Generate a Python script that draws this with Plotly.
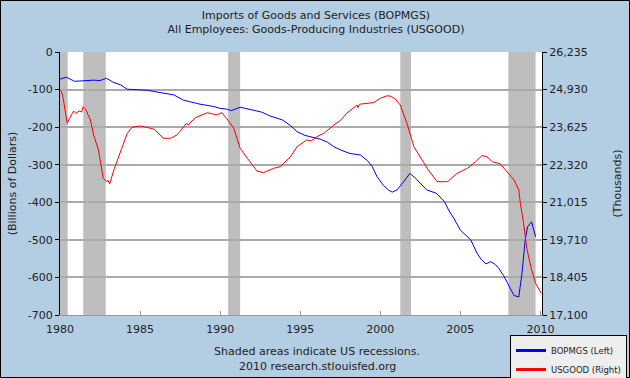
import plotly.graph_objects as go

# ---- data ----
bop_years = [1980.0, 1980.4, 1980.9, 1981.5, 1982.1, 1982.5, 1982.9, 1983.3, 1983.8, 1984.2,
             1984.7, 1985.0, 1985.5, 1986.25, 1987.1, 1987.7, 1988.2, 1988.75, 1989.6, 1990.0,
             1990.4, 1990.7, 1991.25, 1992.1, 1992.6, 1993.1, 1993.9, 1994.4, 1994.8, 1995.3,
             1995.7, 1996.25, 1996.7, 1997.1, 1997.6, 1998.1, 1998.75, 1999.2, 1999.5, 1999.8,
             2000.2, 2000.5, 2000.75, 2001.05, 2001.5, 2001.85, 2002.2, 2002.6, 2002.9, 2003.5,
             2004.0, 2004.3, 2004.6, 2005.0, 2005.3, 2005.65, 2006.05, 2006.3, 2006.6, 2006.9,
             2007.2, 2007.4, 2007.7, 2007.95, 2008.35, 2008.65, 2008.85, 2009.05, 2009.2, 2009.45,
             2009.7]
bop_values = [-72, -67, -78, -76, -75, -76, -70, -80, -88, -99,
              -100, -100, -102, -108, -114, -128, -134, -139, -145, -150,
              -152, -156, -147, -154, -160, -170, -181, -196, -212, -222,
              -226, -232, -240, -252, -262, -270, -274, -289, -305, -332,
              -355, -367, -373, -367, -343, -323, -336, -355, -367, -376,
              -398, -423, -443, -474, -487, -500, -536, -552, -564, -558,
              -566, -576, -595, -616, -648, -652, -589, -500, -465, -452,
              -492]

good_years = [1980.0, 1980.1, 1980.2, 1980.35, 1980.45, 1980.6, 1980.85, 1981.0, 1981.2, 1981.35,
              1981.45, 1981.6, 1981.9, 1982.1, 1982.4, 1982.7, 1982.9, 1983.0, 1983.1, 1983.4,
              1983.75, 1984.2, 1984.5, 1985.0, 1985.4, 1985.9, 1986.45, 1986.9, 1987.3, 1987.7,
              1987.9, 1988.0, 1988.45, 1989.2, 1989.5, 1989.8, 1990.1, 1990.4, 1990.85, 1991.25,
              1991.7, 1992.3, 1992.7, 1993.35, 1993.75, 1994.4, 1994.8, 1995.4, 1995.7, 1996.05,
              1996.5, 1997.1, 1997.5, 1997.9, 1998.55, 1998.6, 1998.7, 1999.2, 1999.6, 2000.0,
              2000.45, 2000.7, 2000.95, 2001.25, 2001.7, 2002.1, 2002.6, 2003.0, 2003.55, 2004.2,
              2004.8, 2005.45, 2005.95, 2006.35, 2006.65, 2007.0, 2007.5, 2007.95, 2008.35, 2008.65,
              2008.75, 2008.95, 2009.15, 2009.4, 2009.7, 2010.05]
good_values = [24915, 24850, 24627, 24100, 23759, 23932, 24186, 24100, 24186, 24150,
               24335, 24245, 23873, 23352, 22832, 21849, 21731, 21780, 21651, 22196,
               22717, 23412, 23620, 23665, 23620, 23551, 23238, 23238, 23352, 23620,
               23759, 23700, 23953, 24127, 24100, 24047, 24127, 23932, 23585, 22890,
               22543, 22102, 22044, 22196, 22252, 22599, 22946, 23179, 23150, 23294,
               23420, 23700, 23850, 24107, 24394, 24300, 24420, 24453, 24480, 24627,
               24718, 24690, 24592, 24394, 23700, 22946, 22484, 22137, 21731, 21731,
               22022, 22196, 22426, 22634, 22599, 22426, 22345, 22044, 21790, 21442,
               20980, 20286, 19417, 18778, 18202, 17855]

recession_starts = [1980.0, 1981.45, 1990.5, 2001.25, 2008.0]
recession_ends = [1980.48, 1982.86, 1991.25, 2001.92, 2009.7]

x_ticks = [1980, 1985, 1990, 1995, 2000, 2005, 2010]
left_ticks = [0, -100, -200, -300, -400, -500, -600, -700]
right_ticks = [17100, 18405, 19710, 21015, 22320, 23625, 24930, 26235]

BG = "#b3cde3"
FONT = "DejaVu Sans"
TXT = "#222222"

fig = go.Figure()
fig.add_trace(go.Scatter(x=bop_years, y=bop_values, mode="lines",
                         line=dict(color="#0000ff", width=1), showlegend=False, yaxis="y"))
fig.add_trace(go.Scatter(x=good_years, y=good_values, mode="lines",
                         line=dict(color="#ff0000", width=1), showlegend=False, yaxis="y2"))
# legend entries
fig.add_trace(go.Scatter(x=[None], y=[None], mode="lines", name="BOPMGS (Left)",
                         line=dict(color="#0000ff", width=3)))
fig.add_trace(go.Scatter(x=[None], y=[None], mode="lines", name="USGOOD (Right)",
                         line=dict(color="#ff0000", width=3), yaxis="y2"))

shapes = []
for s, e in zip(recession_starts, recession_ends):
    shapes.append(dict(type="rect", xref="x", yref="paper", x0=s, x1=e, y0=0, y1=1,
                       fillcolor="#bebebe", line=dict(width=0), layer="below"))
# outer frame
shapes.append(dict(type="rect", xref="paper", yref="paper",
                   x0=(0.5 - 60) / 482, x1=(629.5 - 60) / 482,
                   y0=(315 - 377.5) / 263, y1=(315 - 0.5) / 263,
                   line=dict(color="#000000", width=1), fillcolor="rgba(0,0,0,0)", layer="above"))

fig.update_layout(
    width=630, height=378,
    margin=dict(l=60, r=88, t=52, b=63, autoexpand=False),
    paper_bgcolor=BG, plot_bgcolor="#ffffff",
    font=dict(family=FONT, size=11, color=TXT),
    title=dict(text="Imports of Goods and Services (BOPMGS)<br>All Employees: Goods-Producing Industries (USGOOD)",
               x=316 / 630, xref="container", xanchor="center", y=1 - 19 / 378,
               yref="container", yanchor="middle",
               font=dict(family=FONT, size=11, color=TXT)),
    shapes=shapes,
    xaxis=dict(range=[1980, 2010.1], tickvals=x_ticks, ticktext=[str(t) for t in x_ticks],
               ticks="inside", ticklen=4, tickcolor="#999999", showline=True, linecolor="#999999",
               linewidth=1, showgrid=False, zeroline=False, fixedrange=True, automargin=False,
               ticklabelstandoff=4,
               tickfont=dict(family=FONT, size=11, color=TXT)),
    yaxis=dict(range=[-700, 0], tickvals=left_ticks, ticktext=[str(t) for t in left_ticks],
               ticks="outside", ticklen=4, tickcolor="#000000", showline=True, linecolor="#000000",
               linewidth=1, showgrid=True, gridcolor="#aaaaaa", gridwidth=1.5, zeroline=False,
               automargin=False,
               title=dict(text="(Billions of Dollars)", standoff=8,
                          font=dict(family=FONT, size=11, color=TXT)),
               tickfont=dict(family=FONT, size=11, color=TXT)),
    yaxis2=dict(range=[17100, 26235], tickvals=right_ticks,
                ticktext=[f"{t:,}" for t in right_ticks], overlaying="y", side="right",
                ticks="outside", ticklen=4, tickcolor="#000000", showline=True, linecolor="#000000",
                linewidth=1, showgrid=False, zeroline=False, automargin=False,
                title=dict(text="(Thousands)", standoff=26,
                           font=dict(family=FONT, size=11, color=TXT)),
                tickfont=dict(family=FONT, size=11, color=TXT)),
    legend=dict(x=(627 - 60) / 482, y=(315 - 335) / 263, xanchor="right", yanchor="top",
                bgcolor="#eeeeee", bordercolor="#000000", borderwidth=1,
                font=dict(family=FONT, size=8.5, color=TXT), itemwidth=30,
                tracegroupgap=0),
    annotations=[
        dict(text="Shaded areas indicate US recessions.", xref="paper", yref="paper",
             x=(317 - 60) / 482, y=(315 - 351) / 263, showarrow=False, xanchor="center",
             yanchor="middle", font=dict(family=FONT, size=11, color=TXT)),
        dict(text="2010 research.stlouisfed.org", xref="paper", yref="paper",
             x=(317 - 60) / 482, y=(315 - 366) / 263, showarrow=False, xanchor="center",
             yanchor="middle", font=dict(family=FONT, size=11, color=TXT)),
    ],
)

fig.write_html("out.html", config={"displayModeBar": False},
               post_script="document.body.style.margin='0';document.body.style.padding='0';"
                           "document.body.style.overflow='hidden';")
